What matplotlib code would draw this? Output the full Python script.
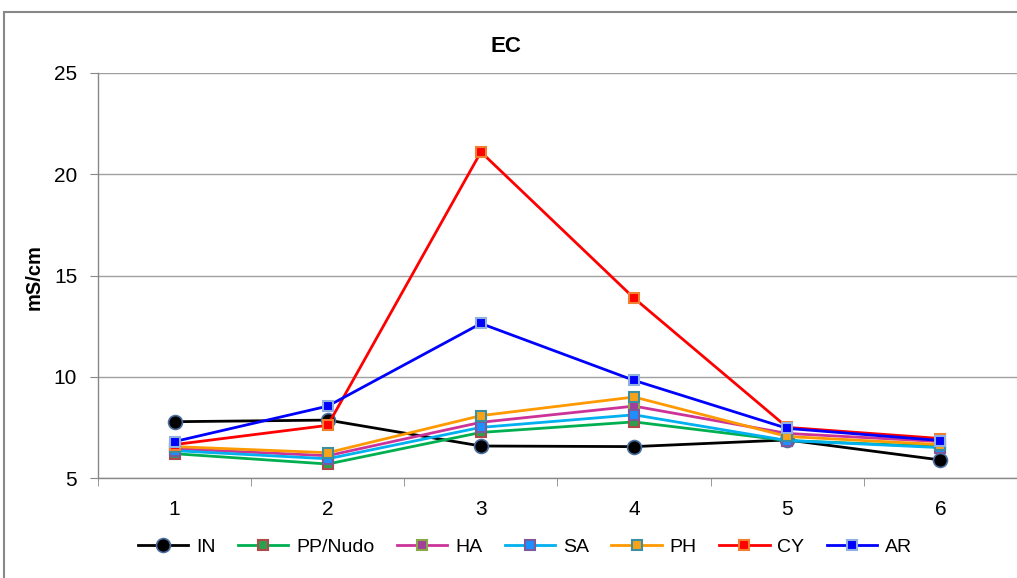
import matplotlib
matplotlib.use("Agg")
import matplotlib.pyplot as plt
from matplotlib.patches import Rectangle

plt.rcParams["font.family"] = ["Liberation Sans", "DejaVu Sans"]

x = [1, 2, 3, 4, 5, 6]
series_names = ["IN", "PP/Nudo", "HA", "SA", "PH", "CY", "AR"]
IN = [7.78, 7.86, 6.58, 6.55, 6.88, 5.89]
PP = [6.2, 5.69, 7.25, 7.77, 6.85, 6.55]
HA = [6.45, 6.1, 7.75, 8.55, 7.2, 6.8]
SA = [6.35, 5.95, 7.5, 8.12, 6.85, 6.5]
PH = [6.55, 6.25, 8.08, 9.0, 7.05, 6.65]
CY = [6.65, 7.6, 21.1, 13.88, 7.5, 6.95]
AR = [6.8, 8.55, 12.63, 9.82, 7.45, 6.85]
values = [IN, PP, HA, SA, PH, CY, AR]

# line colour, marker face, marker edge
styles = {
    "IN": ("black", "black", "#4a6fa0"),
    "PP/Nudo": ("#00b050", "#2e9e4f", "#b04a4a"),
    "HA": ("#cc3399", "#a0409a", "#8aa848"),
    "SA": ("#00b0f0", "#1e8fff", "#7a5a9a"),
    "PH": ("#ff9900", "#f7a21b", "#3a8fa0"),
    "CY": ("#ff0000", "#ff0000", "#f08030"),
    "AR": ("#0000ff", "#0000ff", "#8fb0e0"),
}

fig = plt.figure(figsize=(10.17, 5.78), dpi=100)
fig.patches.append(Rectangle((4 / 1017, -0.05), 1.1, 1 - 12 / 578 + 0.05,
                             transform=fig.transFigure, fill=False,
                             edgecolor="#888888", linewidth=1.5))
ax = fig.add_axes([98 / 1017, 1 - 478 / 578, 1 - 98 / 1017, 405 / 578])

for name, vals in zip(series_names, values):
    lc, mf, me = styles[name]
    if name == "IN":
        ax.plot(x, vals, color=lc, linewidth=2, marker="o", markersize=10,
                markerfacecolor=mf, markeredgecolor=me, markeredgewidth=1.2,
                label=name, zorder=3)
    else:
        ax.plot(x, vals, color=lc, linewidth=2, marker="s", markersize=6.5,
                markerfacecolor=mf, markeredgecolor=me, markeredgewidth=1.5,
                label=name, zorder=3)

ax.set_xlim(0.5, 6.5)
ax.set_ylim(5, 25)
ax.set_yticks([5, 10, 15, 20, 25])
ax.set_xticks(x)
ax.set_xticks([0.5, 1.5, 2.5, 3.5, 4.5, 5.5, 6.5], minor=True)
ax.tick_params(axis="x", which="major", length=0, labelsize=15, pad=16)
ax.tick_params(axis="x", which="minor", length=6, color="#888888", direction="out")
ax.tick_params(axis="y", length=6, color="#888888", labelsize=15, pad=9)
ax.yaxis.grid(True, color="#a0a0a0", linewidth=1)
ax.set_axisbelow(True)
for s in ["top", "right"]:
    ax.spines[s].set_visible(False)
for s in ["left", "bottom"]:
    ax.spines[s].set_color("#888888")
    ax.spines[s].set_linewidth(1)

fig.text(506 / 1017, 1 - 46 / 578, "EC", ha="center", va="center",
         fontsize=16, fontweight="bold")
fig.text(34 / 1017, 1 - 277 / 578, "mS/cm", ha="center", va="center",
         fontsize=14.5, fontweight="bold", rotation=90)

fig.legend(loc="center", bbox_to_anchor=(525 / 1017, 1 - 547 / 578), ncol=7,
           frameon=False, fontsize=14, handlelength=2.6, columnspacing=1.15,
           handletextpad=0.4)

fig.savefig("out.png", dpi=100)
